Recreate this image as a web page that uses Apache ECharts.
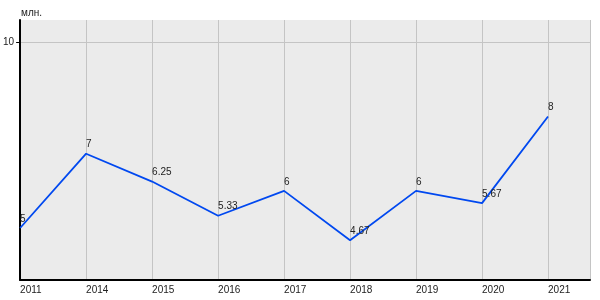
<!DOCTYPE html>
<html><head><meta charset="utf-8">
<script src="https://cdn.jsdelivr.net/npm/echarts@6/dist/echarts.min.js"></script>
<style>html,body{margin:0;padding:0;background:#fff}#c{width:600px;height:300px}</style>
</head><body><div id="c"></div>
<script>
const categories = ['2011','2014','2015','2016','2017','2018','2019','2020','2021'];
const values = [5, 7, 6.25, 5.33, 6, 4.67, 6, 5.67, 8];
const yTicks = [10];
const unitLabel = 'млн.';

const chart = echarts.init(document.getElementById('c'), null, {renderer:'canvas'});
chart.setOption({
  animation: false,
  backgroundColor: '#ffffff',
  textStyle: {fontFamily: 'Liberation Sans, Arial, sans-serif'},
  title: {text: unitLabel, left: 16, top: 3, textStyle: {fontSize: 10, fontWeight: 'normal', color: '#222'}},
  grid: {left: 20, right: 10, top: 20, bottom: 20, show: true, backgroundColor: '#ebebeb', borderWidth: 0},
  xAxis: {
    type: 'value', min: 0, max: 8.636, interval: 1,
    axisLine: {show: true, lineStyle: {color: '#000', width: 2}},
    axisTick: {show: false},
    splitLine: {show: true, lineStyle: {color: '#c4c4c4', width: 1}},
    axisLabel: {
      align: 'left', margin: 5, fontSize: 10, color: '#222', showMaxLabel: false,
      formatter: v => (Number.isInteger(v) && categories[v] !== undefined) ? categories[v] : ''
    }
  },
  yAxis: {
    type: 'value', min: 3.6, max: 10.6, interval: 6.4,
    axisLine: {show: true, lineStyle: {color: '#000', width: 2}},
    axisTick: {show: true, length: 4, lineStyle: {color: '#000'}, customValues: yTicks},
    splitLine: {show: true, lineStyle: {color: '#c4c4c4', width: 1}},
    axisLabel: {margin: 6, fontSize: 10, color: '#222', customValues: yTicks,
      formatter: v => Math.abs(v - 10) < 1e-6 ? '10' : ''}
  },
  series: [{
    type: 'line',
    data: values.map((v, i) => [i, v]),
    showSymbol: true,
    symbol: 'circle',
    symbolSize: 0.1,
    itemStyle: {color: '#0048f0'},
    lineStyle: {color: '#0048f0', width: 1.8},
    label: {show: true, position: 'top', align: 'left', distance: 4, fontSize: 10, color: '#222',
      formatter: p => String(p.value[1])},
    labelLayout: {hideOverlap: false}
  }]
});
</script></body></html>
